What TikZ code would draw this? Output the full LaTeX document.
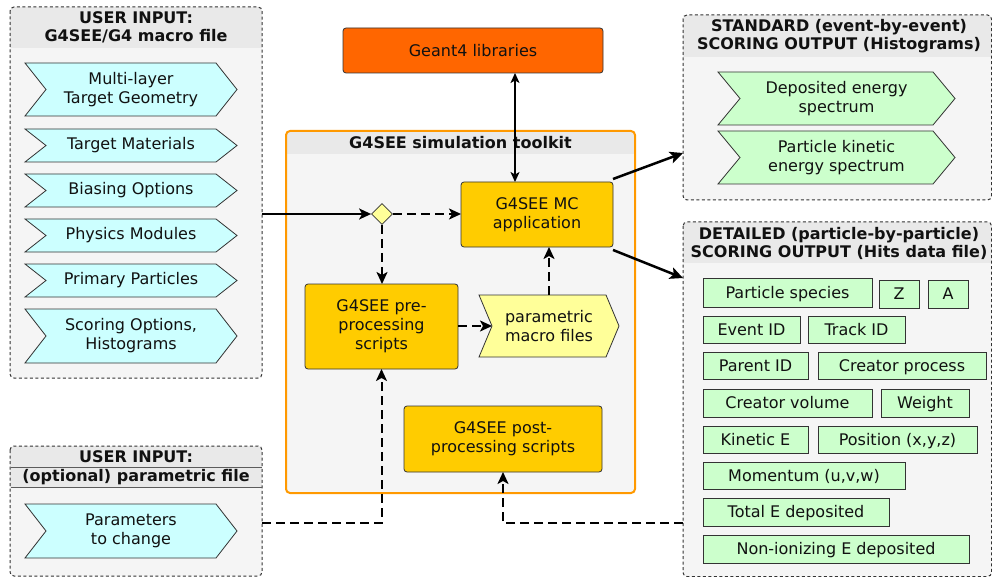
\documentclass[tikz,border=0pt]{standalone}
\usepackage{fontspec}
\setmainfont{DejaVu Sans}
\usetikzlibrary{arrows.meta,fit,shapes.geometric}
\definecolor{cyanf}{HTML}{CCFFFF}
\definecolor{greenf}{HTML}{CCFFCC}
\definecolor{goldf}{HTML}{FFCC00}
\definecolor{orangef}{HTML}{FF6600}
\definecolor{yellowf}{HTML}{FFFF99}
\definecolor{bodyf}{HTML}{F5F5F5}
\definecolor{hdrf}{HTML}{E9E9E9}
\definecolor{orangeline}{HTML}{FF9900}
\definecolor{linec}{HTML}{333333}
\definecolor{txt}{HTML}{111111}
\pgfdeclarelayer{back}
\pgfdeclarelayer{mid}
\pgfsetlayers{back,mid,main}
\newcommand\contbox[7]{% name, x1, y1, x2, y2, header bottom y, border style
  \begin{pgfonlayer}{back}
    \node[fit={(#2,#3) (#4,#5)}, inner sep=0pt, outer sep=0pt] (#1) {};
    \fill[bodyf, rounded corners=4pt] (#2,#3) rectangle (#4,#5);
    \begin{scope}
      \clip[rounded corners=4pt] (#2,#3) rectangle (#4,#5);
      \fill[hdrf] (#2,#3) rectangle (#4,#6);
    \end{scope}
    \draw[#7, rounded corners=4pt] (#2,#3) rectangle (#4,#5);
  \end{pgfonlayer}}
\newcommand\chevshape[3]{% node, depth, fill
  \begin{pgfonlayer}{mid}
    \draw[linec, line width=0.8pt, fill=#3, line join=miter]
      (#1.north west) -- ([xshift=-#2pt]#1.north east) -- (#1.east)
      -- ([xshift=-#2pt]#1.south east) -- (#1.south west)
      -- ([xshift=#2pt]#1.west) -- cycle;
  \end{pgfonlayer}}
\begin{document}
\begin{tikzpicture}[x=1pt,y=-1pt,
  reg/.style={font=\fontsize{16}{19}\selectfont, text=txt},
  ttl/.style={font=\fontsize{16}{18}\selectfont\bfseries, text=txt, align=center, inner sep=0pt},
  chevtext/.style={inner sep=0pt, outer sep=0pt, align=center, reg},
  box/.style={draw=linec, line width=0.8pt, rounded corners=3pt, inner sep=0pt, outer sep=0pt, align=center, reg},
  dbox/.style={draw=linec, line width=0.8pt, fill=greenf, inner sep=0pt, outer sep=0pt, align=center, reg, text height=14pt, text depth=2.3pt},
  cdash/.style={linec, line width=1pt, dash pattern=on 3pt off 2.5pt},
  conn/.style={black, line width=2pt, -{Stealth[length=12pt,width=11pt,inset=3pt]}},
  dconn/.style={conn, dash pattern=on 9pt off 5pt},
  bigconn/.style={black, line width=2.5pt, -{Stealth[length=13pt,width=12pt,inset=3pt]}}
]
\useasboundingbox (0,0) rectangle (992,577);
\begin{pgfonlayer}{back}
\fill[white] (0,0) rectangle (992,577);
\end{pgfonlayer}

% containers
\contbox{ui}{10}{7}{262}{378}{48}{cdash}
\node[ttl] (uit) at (136,27.5) {USER INPUT:\\G4SEE/G4 macro file};

\contbox{tk}{286}{131}{635}{493}{154}{orangeline, line width=2pt}
\node[ttl] (tkt) at (460.5,143) {G4SEE simulation toolkit};

\contbox{std}{683}{15}{991.5}{200}{57}{cdash}
\node[ttl] (stdt) at (839,36.5) {STANDARD (event-by-event)\\SCORING OUTPUT (Histograms)};

\contbox{det}{683}{222}{991.5}{576.5}{263}{cdash}
\node[ttl] (dett) at (839,243) {DETAILED (particle-by-particle)\\SCORING OUTPUT (Hits data file)};

\contbox{pf}{10}{446}{262}{576}{487}{cdash}
\begin{pgfonlayer}{back}
  \draw[linec!80, line width=0.9pt] (10.5,467) -- (261.5,467) (10.5,487) -- (261.5,487);
\end{pgfonlayer}
\node[ttl] (pft1) at (136,457) {USER INPUT:};
\node[ttl] (pft2) at (136,477.5) {(optional) parametric file};

% left chevrons
\node[chevtext, minimum width=212, minimum height=53] (mlt) at (131,89.5) {Multi-layer\\Target Geometry};
\chevshape{mlt}{21}{cyanf}
\node[chevtext, minimum width=212, minimum height=33] (tm) at (131,145.5) {Target Materials};
\chevshape{tm}{21}{cyanf}
\node[chevtext, minimum width=212, minimum height=33] (bo) at (131,190.5) {Biasing Options};
\chevshape{bo}{21}{cyanf}
\node[chevtext, minimum width=212, minimum height=33] (pm) at (131,235.5) {Physics Modules};
\chevshape{pm}{21}{cyanf}
\node[chevtext, minimum width=212, minimum height=33] (pp) at (131,280.5) {Primary Particles};
\chevshape{pp}{21}{cyanf}
\node[chevtext, minimum width=212, minimum height=54] (so) at (131,336) {Scoring Options,\\Histograms};
\chevshape{so}{21}{cyanf}
\node[chevtext, minimum width=212, minimum height=54] (ptc) at (131,531) {Parameters\\to change};
\chevshape{ptc}{21}{cyanf}

% standard output chevrons
\node[chevtext, minimum width=237, minimum height=53] (dep) at (836.5,98.5) {Deposited energy\\spectrum};
\chevshape{dep}{22}{greenf}
\node[chevtext, minimum width=237, minimum height=53] (pke) at (836.5,157.5) {Particle kinetic\\energy spectrum};
\chevshape{pke}{22}{greenf}

% central nodes
\node[box, fill=orangef, minimum width=260, minimum height=45] (g4) at (473,50.5) {Geant4 libraries};
\node[box, fill=goldf, minimum width=152, minimum height=65] (mc) at (537,214.5) {G4SEE MC\\application};
\node[box, fill=goldf, minimum width=153, minimum height=85] (pre) at (381.5,326.5) {G4SEE pre-\\processing\\scripts};
\node[box, fill=goldf, minimum width=198, minimum height=66] (post) at (503,439) {G4SEE post-\\processing scripts};
\node[chevtext, minimum width=140, minimum height=62] (par) at (549,326) {parametric\\macro files};
\chevshape{par}{13}{yellowf}
\node[diamond, aspect=1, draw=linec, line width=0.8pt, fill=yellowf, minimum width=21, minimum height=21, inner sep=0pt] (dia) at (382,214) {};

% detailed boxes
\node[dbox, minimum width=169, minimum height=29] (sp) at (787.5,292.5) {Particle species};
\node[dbox, minimum width=40, minimum height=28] (zz) at (899,294) {Z};
\node[dbox, minimum width=40, minimum height=28] (aa) at (948,294) {A};
\node[dbox, minimum width=97, minimum height=27] (ev) at (751.5,329.5) {Event ID};
\node[dbox, minimum width=97, minimum height=27] (tr) at (856.5,329.5) {Track ID};
\node[dbox, minimum width=105, minimum height=27] (pa) at (755.5,365.5) {Parent ID};
\node[dbox, minimum width=168, minimum height=27] (cp) at (902,365.5) {Creator process};
\node[dbox, minimum width=169, minimum height=28] (cv) at (787.5,403) {Creator volume};
\node[dbox, minimum width=88, minimum height=28] (wt) at (925,403) {Weight};
\node[dbox, minimum width=105, minimum height=27] (ke) at (755.5,439.5) {Kinetic E};
\node[dbox, minimum width=159, minimum height=27] (po) at (897.5,439.5) {Position (x,y,z)};
\node[dbox, minimum width=202, minimum height=27] (mo) at (804,475.5) {Momentum (u,v,w)};
\node[dbox, minimum width=186, minimum height=28] (te) at (796,512) {Total E deposited};
\node[dbox, minimum width=266, minimum height=28] (ni) at (836,549) {Non-ionizing E deposited};

% connectors
\draw[conn] (ui.east |- dia.west) -- (dia.west);
\draw[black, line width=1.5pt, {Stealth[length=10pt,width=9pt,inset=2.5pt]}-{Stealth[length=10pt,width=9pt,inset=2.5pt]}]
  ([xshift=-22pt]mc.north |- g4.south) -- ([xshift=-22pt]mc.north);
\draw[dconn] (dia.east) -- (dia.east -| mc.west);
\draw[dconn] (dia.south) -- (dia.south |- pre.north);
\draw[dconn] (pre.east |- par.west) -- ([xshift=13pt]par.west);
\draw[dconn] (par.north) -- (par.north |- mc.south);
\coordinate (stdin) at (683,153);
\coordinate (detin) at (683,278);
\draw[bigconn] ([yshift=3pt]mc.north east) -- (stdin);
\draw[bigconn] ([yshift=-3pt]mc.south east) -- (detin);
\coordinate (pfout) at (262,523);
\coordinate (detout) at (683,523);
\draw[dconn] (pfout) -| (pre.south);
\draw[dconn] (detout) -| (post.south);
\end{tikzpicture}
\end{document}
